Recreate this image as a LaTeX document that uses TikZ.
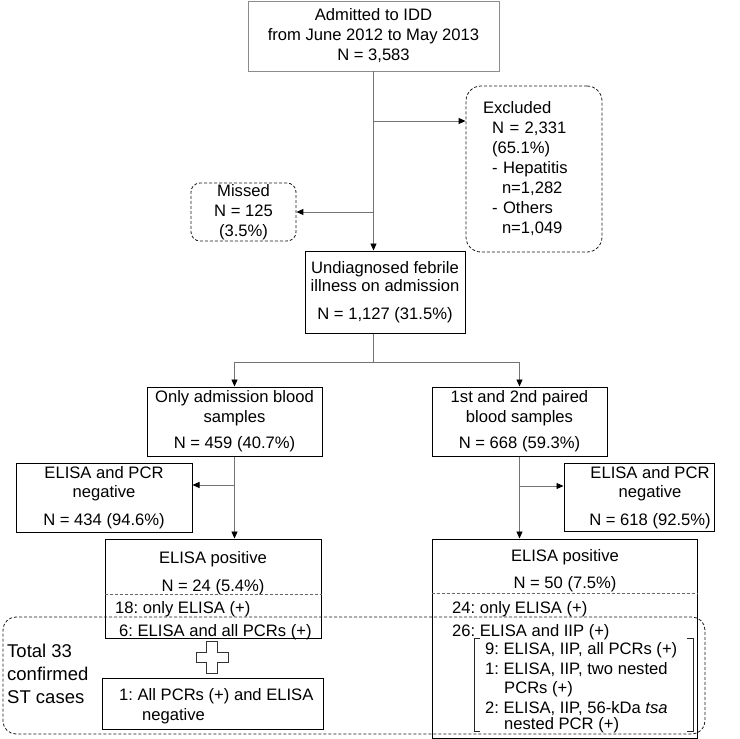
\documentclass[tikz,border=0pt]{standalone}
\usepackage{fontspec}
\setmainfont{Liberation Sans}
\usetikzlibrary{arrows.meta}
\newcommand\mfont{\fontsize{16.6}{20}\selectfont\frenchspacing}
\newcommand\bigfont{\fontsize{18.5}{23}\selectfont\frenchspacing}
\begin{document}
\frenchspacing
\begin{tikzpicture}[x=1pt,y=-1pt,
  box/.style={draw=black,line width=1pt,inner sep=0pt,align=center,font=\mfont},
  dbox/.style={draw=black!90,line width=0.8pt,dash pattern=on 3pt off 2pt},
  conn/.style={draw=black!55,line width=0.9pt},
  arr/.style={conn,-{Triangle[length=7pt,width=6pt,color=black]}},
  txt/.style={inner sep=0pt,font=\mfont,anchor=base},
  txtl/.style={inner sep=0pt,font=\mfont,anchor=base west},
  bigtxt/.style={inner sep=0pt,font=\bigfont,anchor=base west},
  divider/.style={draw=black!60,line width=0.6pt,dash pattern=on 3pt off 2pt},
  bracket/.style={draw=black!85,line width=1pt}
]
\useasboundingbox (0,0) rectangle (740,739);

% boxes
\node[box,draw=black!45,line width=0.8pt,minimum width=251pt,minimum height=70pt] (top) at (373.5,36)
  {Admitted to IDD\\from June 2012 to May 2013\\N = 3,583};
\node[box,dbox,rounded corners=15pt,minimum width=136pt,minimum height=166pt,text width=102pt,inner xsep=17pt,align=left] (excl) at (534,169)
  {Excluded\\\hspace*{9pt}N = 2,331\\\hspace*{9pt}(65.1\%)\\\hspace*{9pt}- Hepatitis\\\hspace*{19pt}n=1,282\\\hspace*{9pt}- Others\\\hspace*{19pt}n=1,049};
\node[box,dbox,rounded corners=9pt,minimum width=105pt,minimum height=58pt] (missed) at (243.5,212)
  {Missed\\N = 125\\(3.5\%)};
\node[box,minimum width=160pt,minimum height=82pt] (und) at (385,292)
  {Undiagnosed febrile\\[-2pt]illness on admission\\[8pt]N = 1,127 (31.5\%)};
\node[box,minimum width=175pt,minimum height=69pt] (only) at (234.5,421.5)
  {Only admission blood\\samples\\[6pt]N = 459 (40.7\%)};
\node[box,minimum width=175pt,minimum height=69pt] (paired) at (519.5,421.5)
  {1st and 2nd paired\\blood samples\\[6pt]N = 668 (59.3\%)};
\node[box,minimum width=176pt,minimum height=69pt] (negl) at (104,497.5)
  {ELISA and PCR\\[-1pt]negative\\[8pt]N = 434 (94.6\%)};
\node[box,minimum width=150pt,minimum height=68pt] (negr) at (639,497) {};
\node[inner sep=0pt,align=center,font=\mfont] (negrt) at (650,498)
  {ELISA and PCR\\[-1pt]negative\\[8pt]N = 618 (92.5\%)};
\node[box,minimum width=216pt,minimum height=99pt] (posl) at (213,588.5) {};
\node[box,minimum width=265pt,minimum height=199pt] (posr) at (564.5,638.5) {};
\node[box,minimum width=221pt,minimum height=51pt] (allpcr) at (212.5,703.5) {};
\node[txtl] (ap1) at (119,700) {1: All PCRs (+) and ELISA};
\node[txtl] (ap2) at (142,720) {negative};

% grouping frame
\node[dbox,draw,rounded corners=13pt,minimum width=702pt,minimum height=117pt,inner sep=0pt] (grp) at (354,675.5) {};

% left positive box texts
\node[txt] (pl1) at (213,563) {ELISA positive};
\node[txt] (pl2) at (213,591) {N = 24 (5.4\%)};
\coordinate (dl) at (213,594);
\draw[divider] (dl -| posl.west) -- (dl -| posl.east);
\node[txtl] (pl3) at (115,613) {18: only ELISA (+)};
\node[txtl] (pl4) at (119,636) {6: ELISA and all PCRs (+)};

% right positive box texts
\node[txt] (pr1) at (565,561) {ELISA positive};
\node[txt] (pr2) at (565,588) {N = 50 (7.5\%)};
\coordinate (dr) at (565,593);
\draw[divider] (dr -| posr.west) -- (dr -| posr.east);
\node[txtl] (pr3) at (452,613) {24: only ELISA (+)};
\node[txtl] (pr4) at (452,636) {26: ELISA and IIP (+)};
\node[txtl] (pr5) at (485,654) {9: ELISA, IIP, all PCRs (+)};
\node[txtl] (pr6) at (485,674) {1: ELISA, IIP, two nested};
\node[txtl] (pr7) at (504,693) {PCRs (+)};
\node[txtl] (pr8) at (485,713) {2: ELISA, IIP, 56-kDa \textit{tsa}};
\node[txtl] (pr9) at (504,729) {nested PCR (+)};
\draw[bracket] (480,638) -- (474,638) -- (474,731) -- (480,731);
\draw[bracket] (687,638) -- (693,638) -- (693,731) -- (687,731);

% total text
\node[bigtxt] (t1) at (7,657) {Total 33};
\node[bigtxt] (t2) at (7,680) {confirmed};
\node[bigtxt] (t3) at (7,703) {ST cases};

% plus sign
\draw[draw=black!80,line width=1pt,fill=white] (206.7,641.5) -- (217.3,641.5) -- (217.3,652.2) -- (228,652.2)
  -- (228,662.8) -- (217.3,662.8) -- (217.3,673.5) -- (206.7,673.5) -- (206.7,662.8) -- (196,662.8)
  -- (196,652.2) -- (206.7,652.2) -- cycle;

% connectors
\coordinate (jx) at (373.5,121);
\coordinate (jm) at (373.5,212);
\draw[arr] (top.south) -- (top.south |- und.north);
\draw[arr] (jx) -- (jx -| excl.west);
\draw[arr] (jm) -- (missed.east);
\coordinate (sp) at (373.5,362);
\draw[conn] (top.south |- und.south) -- (sp);
\draw[arr] (sp) -| (only.north);
\draw[arr] (sp) -| (paired.north);
\draw[arr] (only.south) -- (only.south |- posl.north);
\coordinate (jl) at (234.5,485);
\draw[arr] (jl) -- (jl -| negl.east);
\draw[arr] (paired.south) -- (paired.south |- posr.north);
\coordinate (jr) at (519.5,486);
\draw[arr] (jr) -- (jr -| negr.west);
\end{tikzpicture}
\end{document}
